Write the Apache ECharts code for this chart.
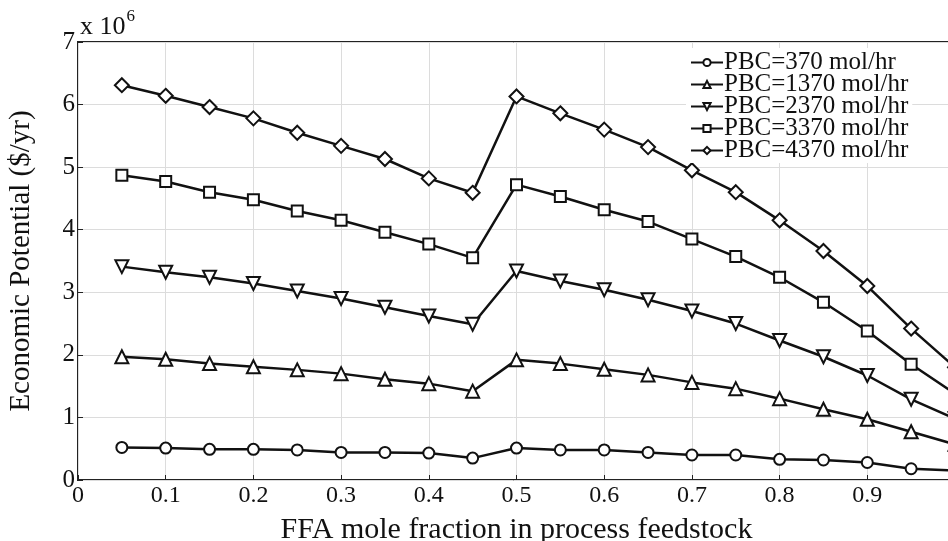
<!DOCTYPE html>
<html>
<head>
<meta charset="utf-8">
<script src="https://cdn.jsdelivr.net/npm/echarts@6/dist/echarts.min.js"></script>
<style>
  html, body { margin: 0; padding: 0; background: #fff; }
  #chart { width: 948px; height: 541px; }
</style>
</head>
<body>
<div id="chart"></div>
<script>
// FFA mole fraction
const ffa = [0.05, 0.1, 0.15, 0.2, 0.25, 0.3, 0.35, 0.4, 0.45, 0.5,
             0.55, 0.6, 0.65, 0.7, 0.75, 0.8, 0.85, 0.9, 0.95, 1.0]

// economic potential, x 10^6 $/yr
const pbc370 = [0.52, 0.51, 0.49, 0.49, 0.48, 0.44, 0.44, 0.43, 0.35, 0.51,
                0.48, 0.48, 0.44, 0.40, 0.40, 0.33, 0.32, 0.28, 0.18, 0.15]
const pbc1370 = [1.97, 1.93, 1.86, 1.81, 1.76, 1.70, 1.61, 1.54, 1.42, 1.92,
                 1.86, 1.77, 1.68, 1.56, 1.46, 1.30, 1.13, 0.97, 0.77, 0.57]
const pbc2370 = [3.41, 3.32, 3.24, 3.14, 3.02, 2.90, 2.76, 2.62, 2.49, 3.34,
                 3.18, 3.04, 2.88, 2.70, 2.50, 2.23, 1.97, 1.67, 1.29, 0.98]
const pbc3370 = [4.87, 4.77, 4.60, 4.48, 4.30, 4.15, 3.96, 3.77, 3.55, 4.72,
                 4.53, 4.32, 4.13, 3.85, 3.57, 3.24, 2.84, 2.38, 1.85, 1.38]
const pbc4370 = [6.31, 6.14, 5.96, 5.78, 5.55, 5.34, 5.13, 4.82, 4.59, 6.13,
                 5.86, 5.60, 5.32, 4.95, 4.60, 4.15, 3.66, 3.10, 2.42, 1.80]

const seriesNames = ['PBC=370 mol/hr', 'PBC=1370 mol/hr', 'PBC=2370 mol/hr',
                     'PBC=3370 mol/hr', 'PBC=4370 mol/hr']
const seriesData = [pbc370, pbc1370, pbc2370, pbc3370, pbc4370]

const serif = '"Liberation Serif", "DejaVu Serif", serif'

// marker look for each series
const markers = [
  { symbol: 'circle', size: 11, rotate: 0 },
  { symbol: 'triangle', size: 13, rotate: 0 },
  { symbol: 'triangle', size: 13, rotate: 180 },
  { symbol: 'rect', size: 11, rotate: 0 },
  { symbol: 'diamond', size: 14, rotate: 0 }
]

const chart = echarts.init(document.getElementById('chart'))

const option = {
  animation: false,
  backgroundColor: '#fff',
  textStyle: { fontFamily: serif, color: '#111' },
  grid: {
    left: 78,
    right: -7,
    top: 42,
    bottom: 61,
    outerBoundsMode: 'none',
    show: true,
    borderColor: '#222',
    borderWidth: 2
  },
  legend: {
    orient: 'vertical',
    left: 686,
    top: 48,
    itemWidth: 32,
    itemHeight: 9,
    itemGap: -3,
    backgroundColor: '#fff',
    padding: [2, 4, 0, 4],
    textStyle: { fontFamily: serif, fontSize: 25, color: '#111', lineHeight: 22, padding: [0, 0, 0, -4] },
    data: seriesNames
  },
  xAxis: {
    type: 'value',
    min: 0,
    max: 1,
    interval: 0.1,
    name: 'FFA mole fraction in process feedstock',
    nameLocation: 'middle',
    nameGap: 35,
    nameTextStyle: { fontFamily: serif, fontSize: 30, color: '#111' },
    axisLine: { show: false },
    axisTick: { inside: true, length: 5, lineStyle: { color: '#222' } },
    axisLabel: {
      fontFamily: serif, fontSize: 24, color: '#111', margin: 4,
      formatter: v => (v >= 0.999 ? '' : String(Math.round(v * 10) / 10))
    },
    splitLine: { show: true, lineStyle: { color: '#dcdcdc', width: 1 } }
  },
  yAxis: {
    type: 'value',
    min: 0,
    max: 7,
    interval: 1,
    name: 'Economic Potential ($/yr)',
    nameLocation: 'middle',
    nameGap: 42,
    nameRotate: 90,
    nameTextStyle: { fontFamily: serif, fontSize: 29, color: '#111' },
    axisLine: { show: false },
    axisTick: { inside: true, length: 5, lineStyle: { color: '#222' } },
    axisLabel: { fontFamily: serif, fontSize: 25, color: '#111', margin: 3 },
    splitLine: { show: true, lineStyle: { color: '#dcdcdc', width: 1 } }
  },
  graphic: [{
    type: 'text',
    left: 80,
    top: 8,
    style: {
      text: '{b|x 10}{s|6}',
      rich: {
        b: { fontFamily: serif, fontSize: 26, fill: '#111', verticalAlign: 'bottom' },
        s: { fontFamily: serif, fontSize: 17, fill: '#111', padding: [0, 0, 15, 1] }
      }
    }
  }],
  series: seriesData.map((vals, i) => ({
    name: seriesNames[i],
    type: 'line',
    data: ffa.map((x, j) => [x, vals[j]]),
    symbol: markers[i].symbol,
    symbolSize: markers[i].size,
    symbolRotate: markers[i].rotate,
    showAllSymbol: true,
    clip: false,
    lineStyle: { color: '#111', width: 2.5 },
    itemStyle: { color: '#fff', borderColor: '#111', borderWidth: 2 },
    emphasis: { disabled: true }
  }))
}

chart.setOption(option)
</script>
</body>
</html>
